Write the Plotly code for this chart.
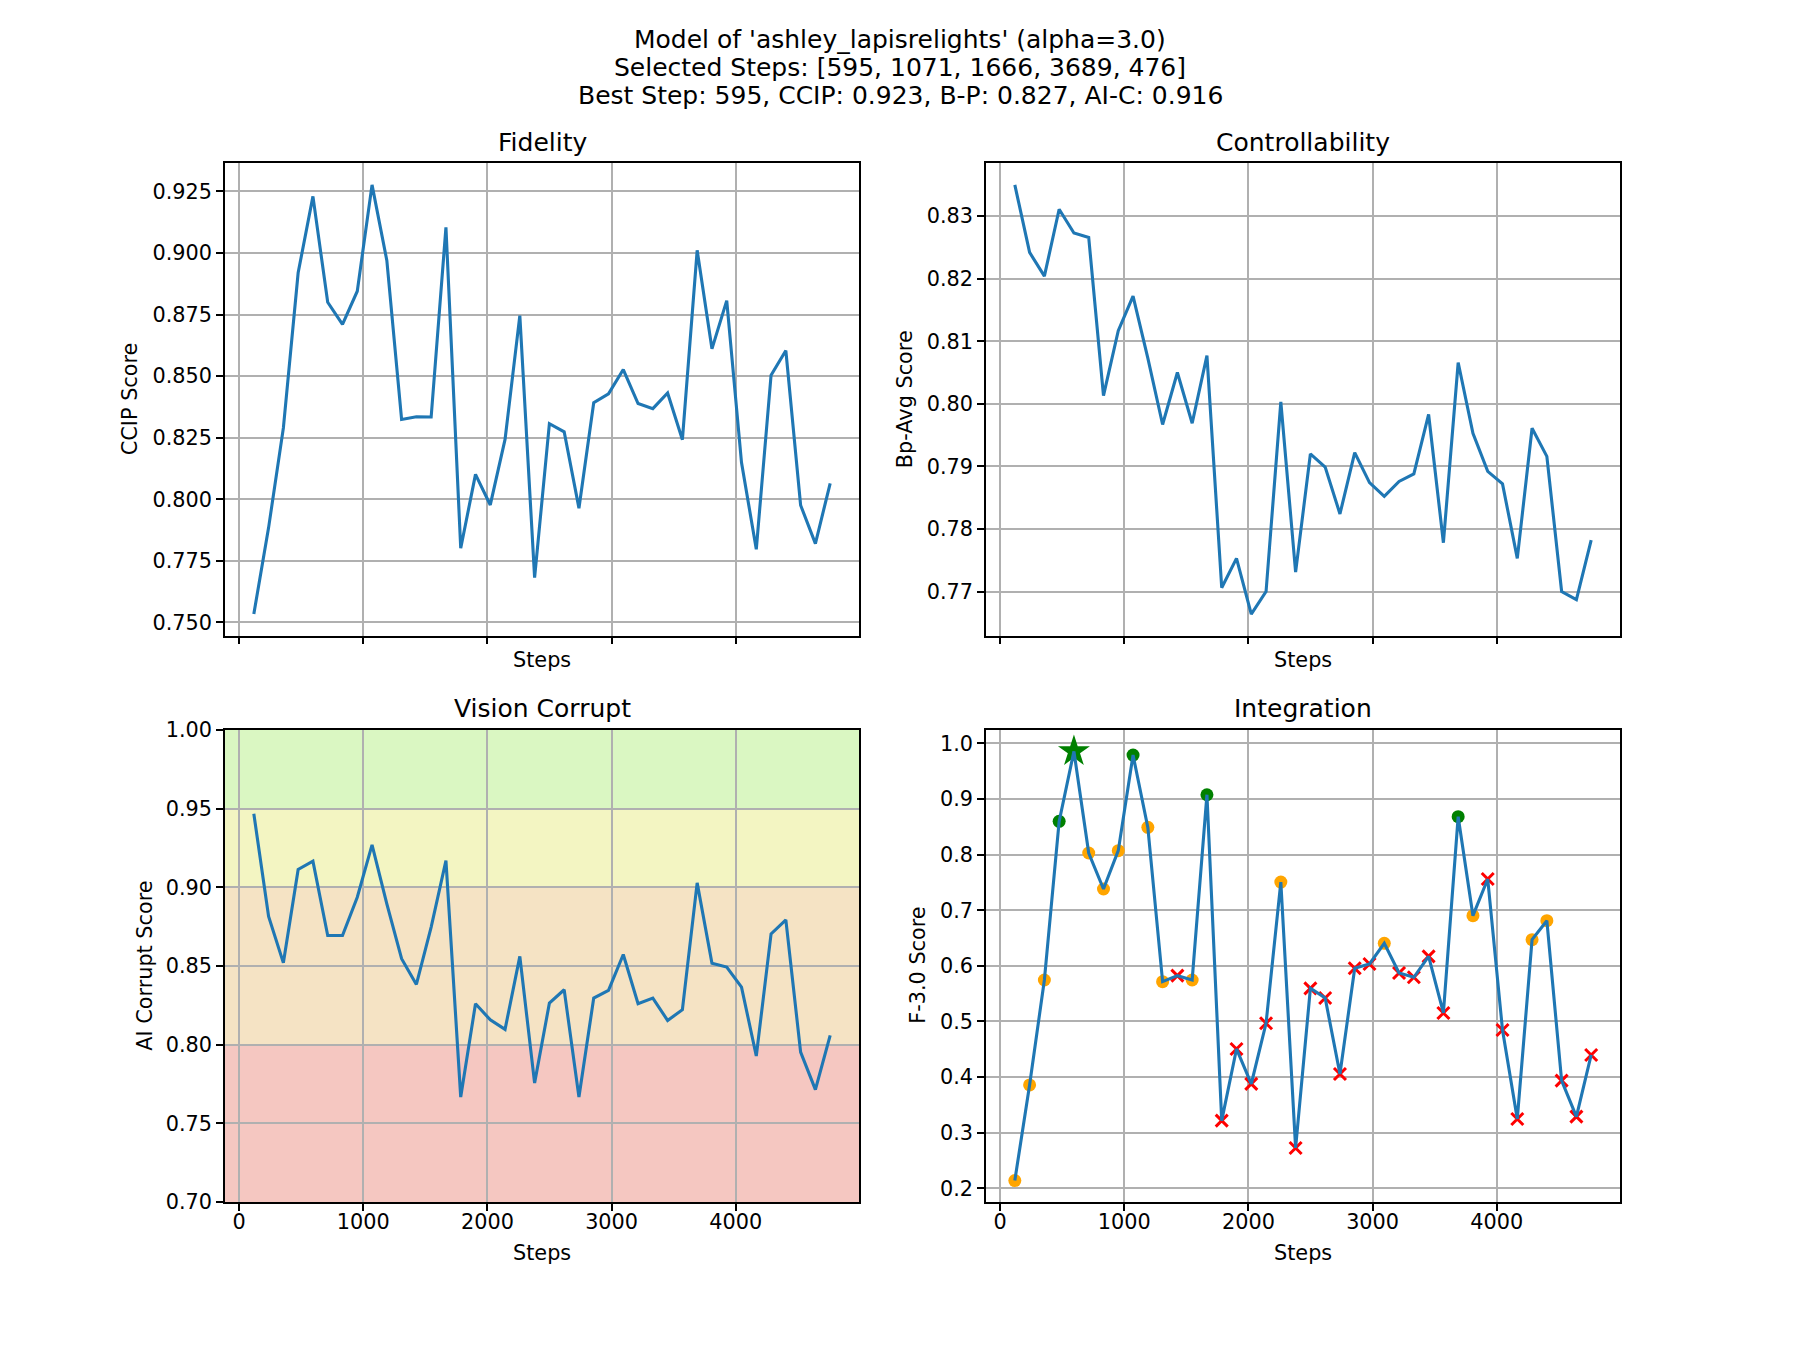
import numpy as np
import plotly.graph_objects as go

# ---------------- data ----------------
steps = [119, 238, 357, 476, 595, 714, 833, 952, 1071, 1190,
         1309, 1428, 1547, 1666, 1785, 1904, 2023, 2142, 2261, 2380,
         2499, 2618, 2737, 2856, 2975, 3094, 3213, 3332, 3451, 3570,
         3689, 3808, 3927, 4046, 4165, 4284, 4403, 4522, 4641, 4760]

ccip = [0.7534, 0.7885, 0.8290, 0.8920, 0.9230, 0.8800, 0.8710, 0.8845, 0.9277, 0.8970,
        0.8324, 0.8335, 0.8334, 0.9104, 0.7801, 0.8101, 0.7977, 0.8243, 0.8746, 0.7682,
        0.8307, 0.8274, 0.7964, 0.8392, 0.8428, 0.8527, 0.8389, 0.8368, 0.8432, 0.8242,
        0.9011, 0.8611, 0.8807, 0.8149, 0.7797, 0.8504, 0.8604, 0.7976, 0.7820, 0.8065]

bp_avg = [0.8350, 0.8242, 0.8204, 0.8311, 0.8273, 0.8266, 0.8013, 0.8117, 0.8172, 0.8073,
          0.7967, 0.8050, 0.7969, 0.8077, 0.7706, 0.7753, 0.7664, 0.7700, 0.8003, 0.7731,
          0.7920, 0.7899, 0.7824, 0.7922, 0.7874, 0.7852, 0.7876, 0.7888, 0.7983, 0.7778,
          0.8066, 0.7953, 0.7892, 0.7872, 0.7753, 0.7961, 0.7916, 0.7700, 0.7687, 0.7782]

ai_corrupt = [0.9467, 0.8815, 0.8520, 0.9113, 0.9166, 0.8694, 0.8694, 0.8937, 0.9270, 0.8895,
              0.8546, 0.8383, 0.8747, 0.9170, 0.7667, 0.8260, 0.8158, 0.8097, 0.8561, 0.7756,
              0.8264, 0.8349, 0.7667, 0.8296, 0.8345, 0.8573, 0.8260, 0.8296, 0.8154, 0.8222,
              0.9028, 0.8518, 0.8493, 0.8366, 0.7928, 0.8704, 0.8793, 0.7953, 0.7714, 0.8059]

f_score = [0.2139, 0.3859, 0.5746, 0.8598, 0.9856, 0.8029, 0.7382, 0.8071, 0.9790, 0.8490,
           0.5716, 0.5824, 0.5746, 0.9077, 0.3217, 0.4506, 0.3877, 0.4967, 0.7507, 0.2726,
           0.5596, 0.5422, 0.4056, 0.5956, 0.6034, 0.6405, 0.5872, 0.5794, 0.6171, 0.5153,
           0.8682, 0.6902, 0.7561, 0.4847, 0.3247, 0.6471, 0.6812, 0.3936, 0.3289, 0.4398]

selected_steps = [595, 1071, 1666, 3689, 476]
best_step = 595
ai_threshold = 0.85

title_lines = ["Model of 'ashley_lapisrelights' (alpha=3.0)",
               "Selected Steps: [595, 1071, 1666, 3689, 476]",
               "Best Step: 595, CCIP: 0.923, B-P: 0.827, AI-C: 0.916"]
panel_titles = ["Fidelity", "Controllability", "Vision Corrupt", "Integration"]
y_titles = ["CCIP Score", "Bp-Avg Score", "AI Corrupt Score", "F-3.0 Score"]

band_edges = [0.70, 0.80, 0.90, 0.95, 1.00]
band_colors = ["#f5c7c1", "#f5e3c4", "#f3f5c2", "#daf7c2"]

# ---------------- styling ----------------
FONT = "DejaVu Sans"
W, H = 1800, 1350
BLUE = "#1f77b4"
GRID = "#b0b0b0"
LW = 3.1
TICKF = 20.8
TITLEF = 25

# vertical correction observed in the rendered photo
V_OFF, V_SCALE = 10.5, 0.983

def px_x(p):
    return p / W

def px_y(p):
    return 1 - ((p - V_OFF) / V_SCALE) / H

xdom = [[225 / W, 859 / W], [986 / W, 1620 / W]]
ydom_top = [px_y(634.5), px_y(162)]
ydom_bot = [px_y(1201.5), px_y(729)]

def mrange(vals):
    a, b = float(np.min(vals)), float(np.max(vals))
    m = (b - a) * 0.05
    return [a - m, b + m]

xr = mrange(steps)

fig = go.Figure()

def add_line(ax, vals):
    fig.add_trace(go.Scatter(x=steps, y=vals, mode="lines",
                             line=dict(color=BLUE, width=LW),
                             xaxis="x" + ax, yaxis="y" + ax, showlegend=False,
                             hoverinfo="skip"))

add_line("", ccip)
add_line("2", bp_avg)
add_line("3", ai_corrupt)

sel_x, sel_y, ok_x, ok_y, bad_x, bad_y, best_x, best_y = [], [], [], [], [], [], [], []
for s, f, a in zip(steps, f_score, ai_corrupt):
    if s == best_step:
        best_x.append(s); best_y.append(f)
    elif s in selected_steps:
        sel_x.append(s); sel_y.append(f)
    elif a > ai_threshold:
        ok_x.append(s); ok_y.append(f)
    else:
        bad_x.append(s); bad_y.append(f)

fig.add_trace(go.Scatter(x=ok_x, y=ok_y, mode="markers", xaxis="x4", yaxis="y4",
                         marker=dict(color="orange", size=13, line=dict(width=0)),
                         showlegend=False))
fig.add_trace(go.Scatter(x=bad_x, y=bad_y, mode="markers", xaxis="x4", yaxis="y4",
                         marker=dict(symbol="x-thin", color="red", size=12,
                                     line=dict(color="red", width=3)),
                         showlegend=False))
fig.add_trace(go.Scatter(x=sel_x, y=sel_y, mode="markers", xaxis="x4", yaxis="y4",
                         marker=dict(color="green", size=13, line=dict(width=0)),
                         showlegend=False))
fig.add_trace(go.Scatter(x=best_x, y=best_y, mode="markers", xaxis="x4", yaxis="y4",
                         marker=dict(symbol="star", color="green", size=24, line=dict(width=0)),
                         showlegend=False))
add_line("4", f_score)

common_axis = dict(showline=True, linecolor="black", linewidth=1.67, mirror=True,
                   ticks="outside", ticklen=7, tickwidth=1.67, tickcolor="black",
                   showgrid=True, gridcolor=GRID, gridwidth=1.67, zeroline=False,
                   tickfont=dict(family=FONT, size=TICKF, color="black"))

def xaxis(dom, anchor, labels):
    d = dict(common_axis)
    d.update(domain=dom, anchor=anchor, range=xr, tick0=0, dtick=1000,
             showticklabels=labels, ticklabelstandoff=-7)
    return d

def yaxis(dom, anchor, rng, dtick, fmt):
    d = dict(common_axis)
    d.update(domain=dom, anchor=anchor, range=rng, tick0=0, dtick=dtick, tickformat=fmt)
    return d

layout = dict(
    width=W, height=H, margin=dict(l=0, r=0, t=0, b=0),
    paper_bgcolor="white", plot_bgcolor="white", showlegend=False,
    xaxis=xaxis(xdom[0], "y", False),
    yaxis=yaxis(ydom_top, "x", mrange(ccip), 0.025, ".3f"),
    xaxis2=xaxis(xdom[1], "y2", False),
    yaxis2=yaxis(ydom_top, "x2", mrange(bp_avg), 0.01, ".2f"),
    xaxis3=xaxis(xdom[0], "y3", True),
    yaxis3=yaxis(ydom_bot, "x3", [band_edges[0], band_edges[-1]], 0.05, ".2f"),
    xaxis4=xaxis(xdom[1], "y4", True),
    yaxis4=yaxis(ydom_bot, "x4", mrange(f_score), 0.1, ".1f"),
)
fig.update_layout(**layout)

for lo, hi, c in zip(band_edges[:-1], band_edges[1:], band_colors):
    fig.add_shape(type="rect", xref="x3 domain", yref="y3", x0=0, x1=1, y0=lo, y1=hi,
                  fillcolor=c, line=dict(width=0), layer="below")

ann = []
for line, yp in zip(title_lines, [38, 66.5, 94.5]):
    ann.append(dict(text=line, x=0.5, y=px_y(yp), xref="paper", yref="paper",
                    xanchor="center", yanchor="middle", showarrow=False,
                    font=dict(family=FONT, size=TITLEF, color="black")))
pt_pos = [(542, 141), (1303, 141), (542, 708), (1303, 708)]
for t, (xp, yp) in zip(panel_titles, pt_pos):
    ann.append(dict(text=t, x=px_x(xp), y=px_y(yp), xref="paper", yref="paper",
                    xanchor="center", yanchor="middle", showarrow=False,
                    font=dict(family=FONT, size=TITLEF, color="black")))
for xp, yp in [(542, 659), (1303, 659), (542, 1252), (1303, 1252)]:
    ann.append(dict(text="Steps", x=px_x(xp), y=px_y(yp), xref="paper", yref="paper",
                    xanchor="center", yanchor="middle", showarrow=False,
                    font=dict(family=FONT, size=TICKF, color="black")))
for t, (xp, yp) in zip(y_titles, [(130, 398), (905, 398), (145, 965), (918, 965)]):
    ann.append(dict(text=t, x=px_x(xp), y=px_y(yp), xref="paper", yref="paper",
                    xanchor="center", yanchor="middle", showarrow=False, textangle=-90,
                    font=dict(family=FONT, size=TICKF, color="black")))
fig.update_layout(annotations=ann)

fig.write_html("out.html", config={"displayModeBar": False},
               post_script="document.body.style.margin='0';document.documentElement.style.overflow='hidden';")
